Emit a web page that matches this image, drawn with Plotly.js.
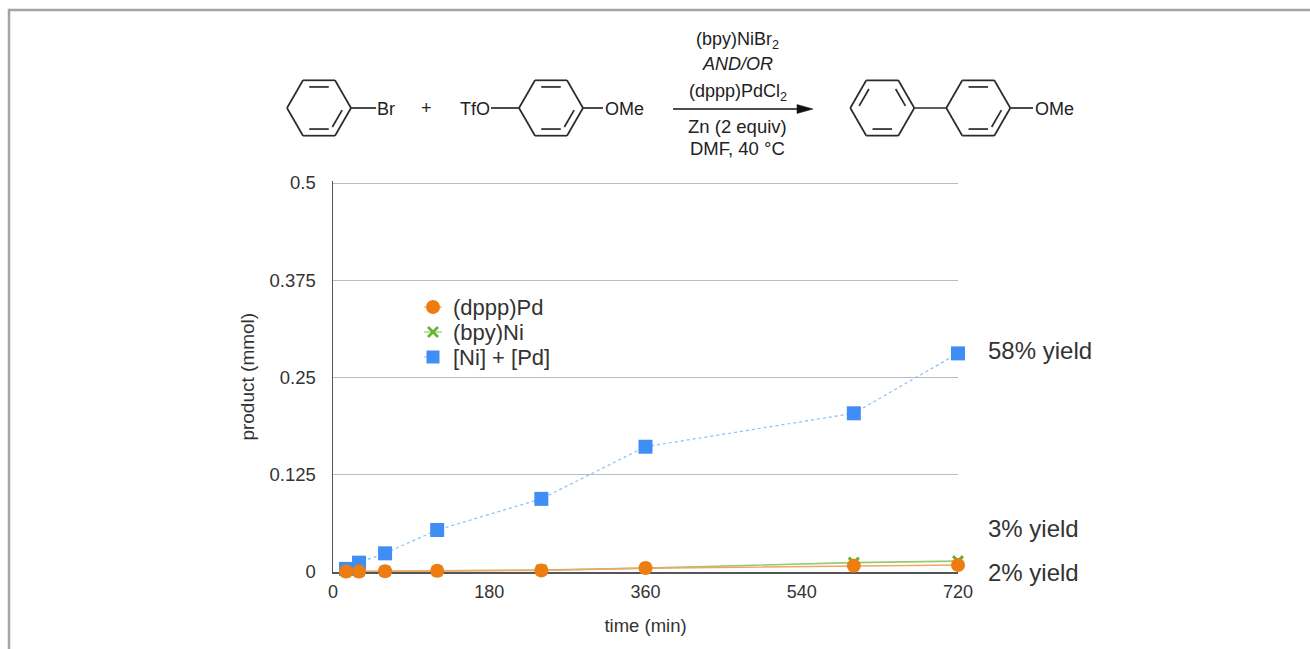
<!DOCTYPE html>
<html>
<head>
<meta charset="utf-8">
<script src="https://cdn.plot.ly/plotly-3.0.1.min.js"></script>
<style>html,body{margin:0;padding:0;background:#fff;overflow:hidden}#chart{width:1310px;height:649px}</style>
</head>
<body>
<div id="chart"></div>
<script>
const FONT = '"Liberation Sans", Arial, sans-serif';
const W = 1310, H = 649;

const timeMin = [15, 30, 60, 120, 240, 360, 600, 720];
const dpppPd = [0.0005, 0.0005, 0.001, 0.0015, 0.002, 0.005, 0.008, 0.009];
const bpyNi = [0.0005, 0.0005, 0.001, 0.0015, 0.0025, 0.005, 0.012, 0.014];
const niPd = [0.004, 0.012, 0.024, 0.054, 0.094, 0.161, 0.204, 0.281];
const xTicks = [0, 180, 360, 540, 720];
const yTicks = [0, 0.125, 0.25, 0.375, 0.5];
const yTickLabels = ['0', '0.125', '0.25', '0.375', '0.5'];
const seriesNames = ['(dppp)Pd', '(bpy)Ni', '[Ni] + [Pd]'];
const yieldLabels = [['58% yield', 350], ['3% yield', 528], ['2% yield', 572]];

const px = x => x / W;
const py = y => 1 - y / H;
const line = (x0, y0, x1, y1, width = 1.7, color = '#2a2a2a') => ({
  type: 'line', xref: 'paper', yref: 'paper', x0: px(x0), y0: py(y0), x1: px(x1), y1: py(y1),
  line: { color, width }, layer: 'above'
});

function ring(cx, cy, rx, ry, tx, inner) {
  const v = [[cx - rx, cy], [cx - tx, cy - ry], [cx + tx, cy - ry], [cx + rx, cy], [cx + tx, cy + ry], [cx - tx, cy + ry]];
  const out = [];
  v.forEach((p, i) => { const q = v[(i + 1) % 6]; out.push(line(p[0], p[1], q[0], q[1])); });
  inner.forEach(i => {
    const a = v[i], b = v[(i + 1) % 6];
    const k = 0.76, s = 0.15;
    const ax = cx + (a[0] - cx) * k + (b[0] - a[0]) * s * 0.5, ay = cy + (a[1] - cy) * k + (b[1] - a[1]) * s * 0.5;
    const bx = cx + (b[0] - cx) * k - (b[0] - a[0]) * s * 0.5, by = cy + (b[1] - cy) * k - (b[1] - a[1]) * s * 0.5;
    out.push(line(ax, ay, bx, by));
  });
  return out;
}

const text = (t, x, y, size = 17.5, anchor = 'center', color = '#222') => ({
  text: t, xref: 'paper', yref: 'paper', x: px(x), y: py(y), xanchor: anchor, yanchor: 'middle',
  showarrow: false, font: { family: FONT, size, color }
});

const shapes = [
  { type: 'line', xref: 'paper', yref: 'paper', x0: px(8), y0: py(10), x1: 1, y1: py(10), line: { color: '#a4a4a8', width: 2.5 } },
  { type: 'line', xref: 'paper', yref: 'paper', x0: px(9), y0: py(9), x1: px(9), y1: 0, line: { color: '#a4a4a8', width: 2.5 } },
  ...ring(319, 108, 32, 27.7, 16, [1, 3, 4]),
  ...ring(551, 108, 32, 27.7, 16, [1, 3, 4]),
  ...ring(882.3, 108, 32, 27.7, 16, [0, 2, 4]),
  ...ring(978.3, 108, 32, 27.7, 16, [1, 3, 4]),
  line(351, 108, 376, 108),
  line(491, 108, 519, 108),
  line(583, 108, 603, 108),
  line(914.3, 108, 946.3, 108),
  line(1010.3, 108, 1033, 108),
  line(673, 109, 800, 109, 1.5, '#111'),
  { type: 'path', xref: 'paper', yref: 'paper',
    path: `M ${px(797)} ${py(104.5)} L ${px(813)} ${py(109)} L ${px(797)} ${py(113.5)} Z`,
    fillcolor: '#111', line: { color: '#111', width: 0.5 }, layer: 'above' }
];

const annotations = [
  text('Br', 386, 109, 18),
  text('+', 426, 108, 18),
  text('TfO', 475, 109, 18),
  text('OMe', 624, 109, 18),
  text('OMe', 1054, 109, 18),
  text('(bpy)NiBr<sub>2</sub>', 737.5, 40, 18),
  text('<i>AND/OR</i>', 737.5, 64, 18),
  text('(dppp)PdCl<sub>2</sub>', 737.5, 92, 18),
  text('Zn (2 equiv)', 737.5, 127, 18.5),
  text('DMF, 40 °C', 737.5, 148, 18.5),
  ...yieldLabels.map(([t, y]) => text(t, 986, y, 24, 'left', '#333')),
  ...seriesNames.map((t, i) => text(t, 451, [307, 332, 357][i], 22, 'left', '#333'))
];

const keyX = [424, 442];
const keyMid = [433];
const keyLine = (rowY, color, dash) => ({
  x: keyX, y: [rowY, rowY], xaxis: 'x2', yaxis: 'y2', mode: 'lines',
  showlegend: false, hoverinfo: 'skip', cliponaxis: false, line: { color, width: 1.2, dash }
});
const keyMark = (rowY, marker) => ({
  x: keyMid, y: [rowY], xaxis: 'x2', yaxis: 'y2', mode: 'markers',
  showlegend: false, hoverinfo: 'skip', cliponaxis: false, marker
});

const traces = [
  { x: timeMin, y: niPd, name: seriesNames[2], mode: 'lines+markers', cliponaxis: false,
    line: { color: '#8bbdf8', width: 1.2, dash: 'dot' },
    marker: { symbol: 'square', size: 14, color: '#3f8ef5' } },
  { x: timeMin, y: bpyNi, name: seriesNames[1], mode: 'lines+markers', cliponaxis: false,
    line: { color: '#93cc72', width: 1.6 },
    marker: { symbol: 'x-thin', size: 10, color: '#66b32e', line: { color: '#66b32e', width: 3 } } },
  { x: timeMin, y: dpppPd, name: seriesNames[0], mode: 'lines+markers', cliponaxis: false,
    line: { color: '#f2a566', width: 1.6 },
    marker: { symbol: 'circle', size: 14, color: '#ee7d11' } },
  keyLine(307, '#f2a566', 'solid'),
  keyLine(332, '#93cc72', 'solid'),
  keyLine(357, '#8bbdf8', 'dot'),
  keyMark(307, { symbol: 'circle', size: 14, color: '#ee7d11' }),
  keyMark(332, { symbol: 'x-thin', size: 10, color: '#66b32e', line: { color: '#66b32e', width: 2.6 } }),
  keyMark(357, { symbol: 'square', size: 13, color: '#3f8ef5' })
];

const layout = {
  width: W, height: H, margin: { l: 0, r: 0, t: 0, b: 0 },
  paper_bgcolor: '#fff', plot_bgcolor: 'rgba(0,0,0,0)',
  font: { family: FONT, color: '#333' },
  showlegend: false,
  xaxis: {
    domain: [px(333), px(958)], range: [0, 720], tickmode: 'array', tickvals: xTicks,
    ticktext: xTicks.map(String), showgrid: false, zeroline: false, showline: true,
    linecolor: '#555', linewidth: 1.5, ticks: '', ticklen: 0, layer: 'below traces',
    ticklabelstandoff: 3,
    tickfont: { family: FONT, size: 18, color: '#333' },
    title: { text: 'time (min)', font: { family: FONT, size: 18.5, color: '#333' }, standoff: 18 }
  },
  yaxis: {
    domain: [py(572), py(181.44)], range: [0, 0.502], tickmode: 'array', tickvals: yTicks,
    ticktext: yTickLabels, showgrid: true, gridcolor: '#bcbcbc', gridwidth: 1, zeroline: false,
    showline: true, linecolor: '#555', linewidth: 1.5, ticks: '', layer: 'below traces',
    ticklabelstandoff: 12,
    tickfont: { family: FONT, size: 18.5, color: '#333' },
    title: { text: 'product (mmol)', font: { family: FONT, size: 19, color: '#333' }, standoff: 10 }
  },
  xaxis2: { domain: [0, 1], range: [0, W], visible: false, anchor: 'y2', fixedrange: true },
  yaxis2: { domain: [0, 1], range: [H, 0], visible: false, anchor: 'x2', fixedrange: true },
  shapes, annotations
};

Plotly.newPlot('chart', traces, layout, { displayModeBar: false, staticPlot: true });
</script>
</body>
</html>
